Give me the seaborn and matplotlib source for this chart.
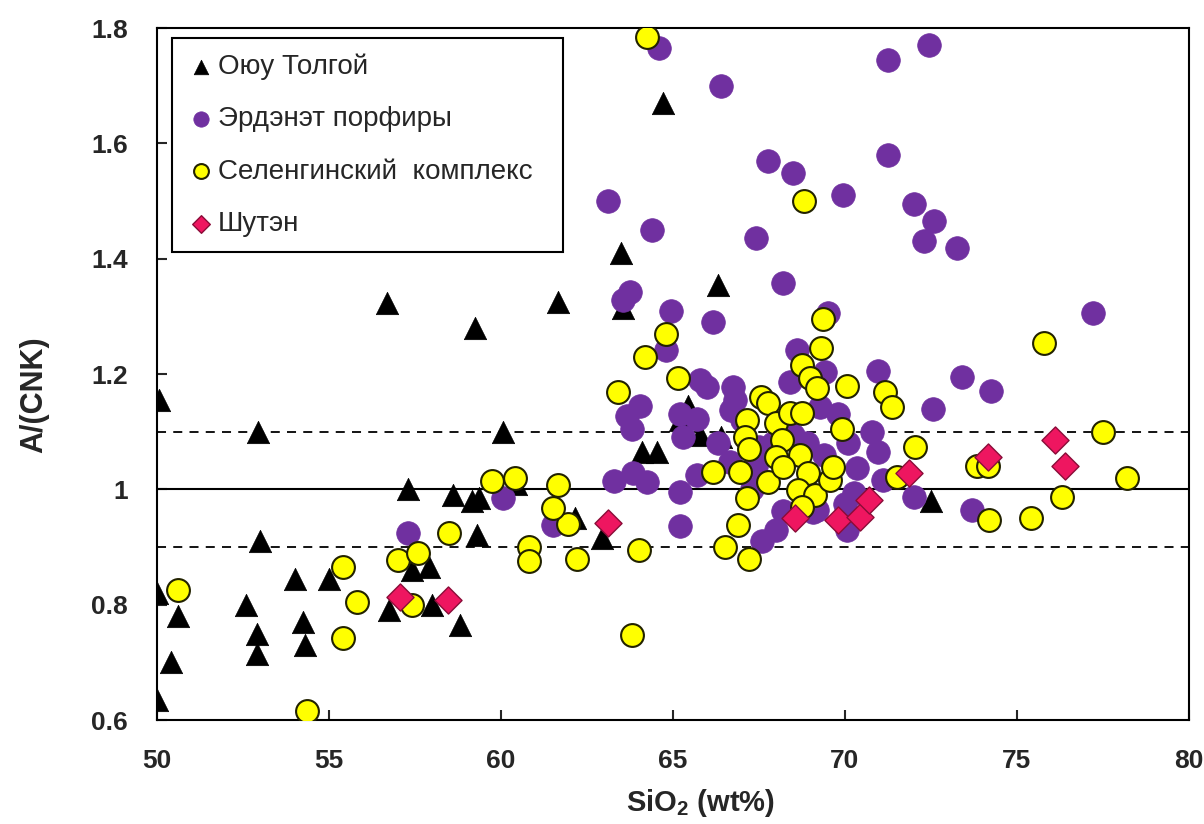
import numpy as np
import pandas as pd
import seaborn as sns
import matplotlib
matplotlib.use("Agg")
import matplotlib.pyplot as plt
from matplotlib.ticker import FuncFormatter

# ---- данные (SiO2, A/CNK) ----
oyu_x = [50.0, 50.6, 50.4, 50.0, 53.0, 52.6, 52.9, 52.9, 54.0, 54.25, 54.3, 55.0,
         56.75, 57.4, 57.9, 58.0, 58.8, 59.3, 58.6, 59.15, 59.35, 57.3, 50.05, 52.95,
         56.7, 59.25, 60.05, 64.7, 63.5, 61.65, 66.3, 63.55, 65.45, 65.2, 65.8, 66.4,
         64.1, 64.55, 60.45, 62.15, 62.95, 72.5]
oyu_y = [0.82, 0.78, 0.70, 0.635, 0.91, 0.80, 0.75, 0.715, 0.845, 0.77, 0.73, 0.845,
         0.79, 0.86, 0.865, 0.80, 0.765, 0.92, 0.99, 0.98, 0.985, 1.0, 1.155, 1.10,
         1.323, 1.28, 1.10, 1.67, 1.41, 1.325, 1.355, 1.315, 1.145, 1.12, 1.095, 1.09,
         1.065, 1.065, 1.01, 0.95, 0.915, 0.98]

erd_x = [64.6, 66.4, 71.25, 72.45, 71.25, 67.75, 68.5, 69.95, 63.1, 64.4, 67.4, 68.2,
         72.0, 72.6, 72.3, 73.25, 77.2, 70.95, 73.4, 74.25, 72.55, 70.8, 70.95, 70.35,
         71.1, 72.0, 73.7, 63.75, 63.55, 64.95, 66.15, 69.5, 64.8, 68.6, 69.42, 68.4,
         65.8, 66.0, 66.75, 66.8, 64.05, 63.65, 63.8, 65.2, 65.7, 65.3, 66.7, 69.27,
         69.8, 63.3, 63.85, 64.25, 65.7, 65.2, 66.66, 60.05, 61.5, 65.2, 67.6, 68.2,
         70.0, 69.2, 70.25, 57.3, 67.5, 68.5, 69.07, 70.06, 68.0, 67.0, 67.4, 67.9,
         68.9, 67.3, 66.3, 69.4, 70.1]
erd_y = [1.765, 1.70, 1.745, 1.77, 1.58, 1.57, 1.548, 1.51, 1.50, 1.45, 1.435, 1.358,
         1.495, 1.465, 1.43, 1.418, 1.305, 1.205, 1.195, 1.17, 1.14, 1.10, 1.065, 1.037,
         1.016, 0.987, 0.965, 1.342, 1.328, 1.31, 1.29, 1.305, 1.242, 1.242, 1.203, 1.186,
         1.19, 1.178, 1.177, 1.155, 1.145, 1.128, 1.105, 1.13, 1.122, 1.09, 1.138, 1.143,
         1.13, 1.015, 1.028, 1.012, 1.025, 0.995, 1.048, 0.985, 0.938, 0.937, 0.91, 0.963,
         0.975, 0.965, 0.994, 0.925, 1.073, 1.094, 0.96, 0.93, 0.93, 1.12, 1.04, 1.08,
         1.08, 1.00, 1.08, 1.06, 1.08]

sel_x = [64.25, 68.8, 50.6, 55.4, 55.8, 55.4, 54.35, 57.0, 57.6, 57.4, 58.5, 60.8,
         60.8, 62.2, 61.95, 61.5, 64.0, 63.8, 66.5, 67.2, 66.9, 59.75, 60.4, 61.65,
         63.4, 64.2, 64.8, 65.15, 66.15, 66.95, 67.15, 67.1, 67.2, 67.15, 67.55, 67.75,
         67.75, 68.0, 68.17, 68.0, 68.4, 68.75, 68.7, 68.92, 68.63, 69.13, 68.75, 69.56,
         69.65, 69.9, 69.35, 69.3, 68.75, 68.98, 69.2, 70.05, 71.16, 71.37, 71.5, 68.2,
         72.05, 75.8, 77.5, 73.85, 74.15, 78.2, 76.3, 74.2, 75.4]
sel_y = [1.784, 1.50, 0.825, 0.865, 0.805, 0.742, 0.615, 0.878, 0.89, 0.80, 0.925, 0.90,
         0.875, 0.88, 0.94, 0.967, 0.895, 0.748, 0.90, 0.88, 0.938, 1.015, 1.02, 1.007,
         1.168, 1.23, 1.27, 1.193, 1.03, 1.03, 1.12, 1.09, 1.07, 0.985, 1.16, 1.15,
         1.013, 1.115, 1.086, 1.056, 1.132, 1.132, 1.06, 1.028, 0.999, 0.99, 0.97, 1.016,
         1.039, 1.105, 1.295, 1.245, 1.216, 1.193, 1.176, 1.18, 1.169, 1.143, 1.021, 1.039,
         1.073, 1.254, 1.10, 1.04, 1.04, 1.02, 0.987, 0.947, 0.95]

shu_x = [57.05, 58.45, 63.1, 68.55, 69.8, 70.45, 70.7, 71.85, 74.15, 76.1, 76.4]
shu_y = [0.813, 0.808, 0.942, 0.95, 0.947, 0.952, 0.982, 1.028, 1.056, 1.086, 1.04]

labels = ["Оюу Толгой", "Эрдэнэт порфиры", "Селенгинский  комплекс", "Шутэн"]

x_ticks = [50, 55, 60, 65, 70, 75, 80]
y_ticks = [0.6, 0.8, 1.0, 1.2, 1.4, 1.6, 1.8]

sns.set_style("ticks")
plt.rcParams["font.family"] = ["Liberation Sans", "DejaVu Sans"]
plt.rcParams["mathtext.fontset"] = "custom"
plt.rcParams["mathtext.rm"] = "Liberation Sans:bold"
plt.rcParams["mathtext.bf"] = "Liberation Sans:bold"

fig = plt.figure(figsize=(12.04, 8.24), dpi=100)
ax = fig.add_axes([0.1304, 0.1262, 0.8571, 0.8398])

# линии A/CNK = 0.9, 1.0, 1.1
ax.axhline(1.0, color="black", lw=1.5, zorder=1)
ax.axhline(1.1, color="black", lw=1.3, ls=(0, (5, 4)), zorder=1)
ax.axhline(0.9, color="black", lw=1.3, ls=(0, (5, 4)), zorder=1)

sns.scatterplot(x=oyu_x, y=oyu_y, ax=ax, marker="^", s=260, color="black",
                edgecolor="black", linewidth=0.5, label=labels[0], zorder=3)
sns.scatterplot(x=erd_x, y=erd_y, ax=ax, marker="o", s=290, color="#7030A0",
                edgecolor="#7030A0", linewidth=0.5, label=labels[1], zorder=4)
sns.scatterplot(x=sel_x, y=sel_y, ax=ax, marker="o", s=270, color="#FFFF00",
                edgecolor="#222200", linewidth=1.5, label=labels[2], zorder=5)
sns.scatterplot(x=shu_x, y=shu_y, ax=ax, marker="D", s=190, color="#EE1660",
                edgecolor="#8A0C38", linewidth=1.0, label=labels[3], zorder=6)

ax.set_xlim(50, 80)
ax.set_ylim(0.6, 1.8)
ax.set_xticks(x_ticks)
ax.set_yticks(y_ticks)
ax.yaxis.set_major_formatter(FuncFormatter(lambda v, p: f"{v:g}"))
ax.tick_params(direction="in", length=7, width=1.5, pad=21, labelsize=19,
               top=False, right=False)
for t in ax.get_xticklabels() + ax.get_yticklabels():
    t.set_fontweight("bold")

for sp in ax.spines.values():
    sp.set_visible(True)
    sp.set_color("black")
    sp.set_linewidth(1.5)

ax.set_xlabel(r"SiO$_\mathbf{2}$ (wt%)", fontsize=21, fontweight="bold")
ax.set_ylabel("A/(CNK)", fontsize=22, fontweight="bold")
ax.xaxis.set_label_coords(0.527, -0.097)
ax.yaxis.set_label_coords(-0.104, 0.47)

leg = ax.legend(loc="upper left", bbox_to_anchor=(0.0145, 0.676, 0.379, 0.3095),
                mode="expand", frameon=True, fancybox=False, framealpha=1,
                edgecolor="black", borderaxespad=0, markerscale=0.65,
                handletextpad=0.1, handlelength=1.0, labelspacing=0.95,
                borderpad=0.55, fontsize=20)
leg.get_frame().set_linewidth(1.5)

fig.savefig("out.png", dpi=100)
